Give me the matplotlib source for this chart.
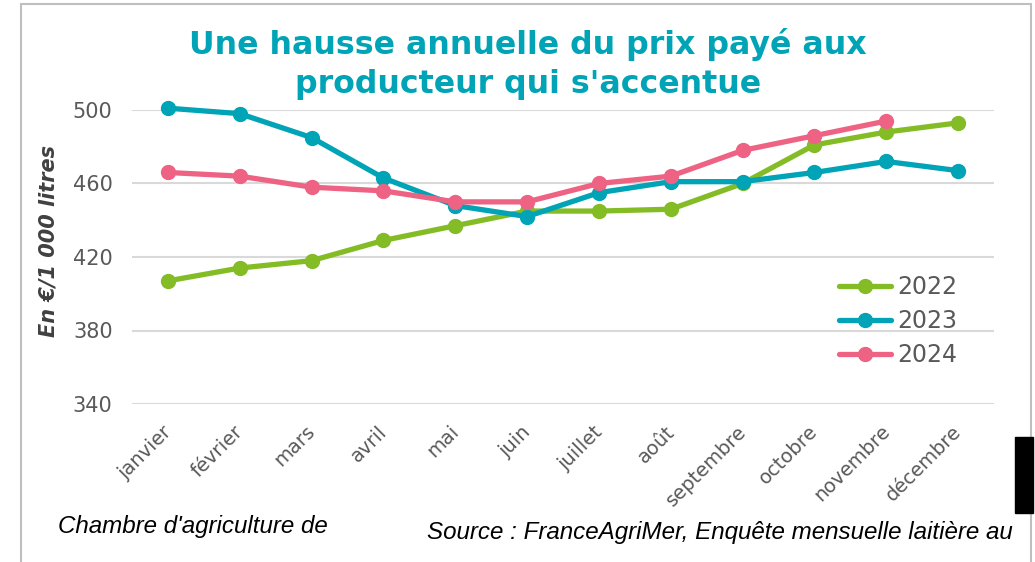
import matplotlib
matplotlib.use("Agg")
import matplotlib.pyplot as plt
from matplotlib.patches import Rectangle
from matplotlib.transforms import ScaledTranslation

months = ["janvier", "février", "mars", "avril", "mai", "juin", "juillet",
          "août", "septembre", "octobre", "novembre", "décembre"]
prix_2022 = [407, 414, 418, 429, 437, 445, 445, 446, 460, 481, 488, 493]
prix_2023 = [501, 498, 485, 463, 448, 442, 455, 461, 461, 466, 472, 467]
prix_2024 = [466, 464, 458, 456, 450, 450, 460, 464, 478, 486, 494]
y_ticks = [340, 380, 420, 460, 500]

c22, c23, c24 = "#84BC26", "#00A4B6", "#EE6283"
grey_txt = "#595959"

W, H = 1035, 562
fig = plt.figure(figsize=(W / 100, H / 100), dpi=100)
ax = fig.add_axes([132 / W, (H - 404) / H, (994 - 132) / W, 294 / H])

x = list(range(len(months)))
for vals, col, lab in [(prix_2022, c22, "2022"), (prix_2023, c23, "2023"), (prix_2024, c24, "2024")]:
    ax.plot(x[:len(vals)], vals, color=col, lw=3.8, marker="o", ms=10, label=lab,
            clip_on=False, zorder=3, solid_capstyle="round")

ax.set_xlim(-0.5, len(months) - 0.5)
ax.set_ylim(340, 500)
ax.set_yticks(y_ticks)
ax.set_yticklabels([str(v) for v in y_ticks], fontsize=15, color=grey_txt)
ax.set_xticks(x)
ax.tick_params(axis="both", length=0)
ax.tick_params(axis="y", pad=14)
ax.tick_params(axis="x", pad=13)
ax.set_xticklabels(months, rotation=45, ha="right", va="top", rotation_mode="anchor",
                   fontsize=14, color=grey_txt)
off = ScaledTranslation(-0.06, 0.0, fig.dpi_scale_trans)
for lbl in ax.get_xticklabels():
    lbl.set_transform(lbl.get_transform() + off)
ax.grid(axis="y", color="#D9D9D9", lw=1.5)
ax.set_axisbelow(True)
for s in ax.spines.values():
    s.set_visible(False)

ax.set_ylabel("En €/1 000 litres", fontsize=15, fontweight="bold", style="italic",
              color="#404040")
ax.yaxis.set_label_coords(-0.085, 0.554)

leg = ax.legend(loc="upper left", bbox_to_anchor=((830 - 132) / 862, (404 - 266) / 294),
                frameon=False, fontsize=17, handlelength=2.2, labelspacing=0.42,
                handletextpad=0.25, borderaxespad=0)
for t in leg.get_texts():
    t.set_color(grey_txt)

fig.text(528 / W, 1 - 64 / H, "Une hausse annuelle du prix payé aux\nproducteur qui s'accentue",
         ha="center", va="center", fontsize=22.8, fontweight="bold", color="#00A4B6",
         linespacing=1.3)

fig.text(58 / W, 1 - 527 / H, "Chambre d'agriculture de", fontsize=17.4,
         style="italic", family="Liberation Sans", color="#000000", va="center")
fig.text(427 / W, 1 - 533 / H, "Source : FranceAgriMer, Enquête mensuelle laitière au",
         fontsize=17.4, style="italic", family="Liberation Sans", color="#000000", va="center")

fig.patches.append(Rectangle((21 / W, -0.1), (1031 - 21) / W, (H - 4) / H + 0.1,
                             transform=fig.transFigure, fill=False, ec="#BFBFBF", lw=1.5))
fig.patches.append(Rectangle((1015 / W, 1 - 513 / H), 18 / W, 76 / H,
                             transform=fig.transFigure, color="black"))

fig.savefig("out.png", dpi=100)
